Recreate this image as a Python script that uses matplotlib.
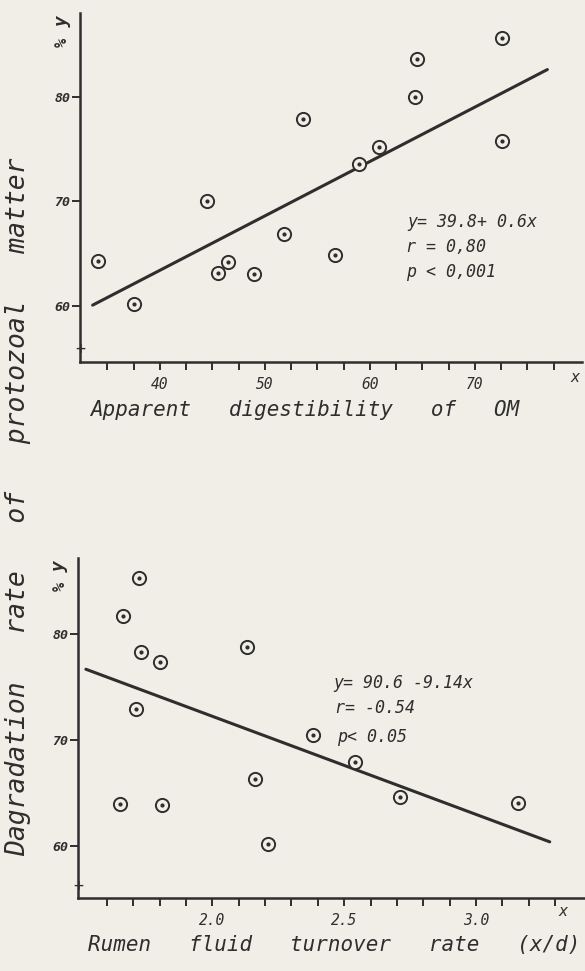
import matplotlib
matplotlib.use("Agg")
import matplotlib.pyplot as plt

# upper panel: apparent digestibility of OM vs degradation rate
om_x = [34.1, 37.5, 44.5, 45.5, 46.5, 49.0, 51.8, 53.6, 56.7, 59.0, 60.9, 64.5, 64.3, 72.6, 72.6]
om_y = [64.3, 60.2, 70.0, 63.2, 64.2, 63.1, 66.9, 77.9, 64.9, 73.6, 75.2, 83.6, 80.0, 85.6, 75.8]
om_fit_x = [33.6, 76.9]
om_fit_y = [60.1, 82.6]
om_ticks = [40, 50, 60, 70]
om_minor = [35, 37.5, 40, 42.5, 45, 47.5, 50, 52.5, 55, 57.5, 60, 62.5, 65, 67.5, 70, 72.5, 75, 77.5]

# lower panel: rumen fluid turnover rate vs degradation rate
tr_x = [1.72, 1.66, 1.73, 1.80, 1.71, 1.65, 1.81, 2.13, 2.16, 2.21, 2.38, 2.54, 2.71, 3.16]
tr_y = [85.3, 81.7, 78.3, 77.4, 72.9, 64.0, 63.9, 78.8, 66.3, 60.2, 70.5, 67.9, 64.6, 64.1]
tr_fit_x = [1.52, 3.28]
tr_fit_y = [76.7, 60.4]
tr_ticks = [2.0, 2.5, 3.0]
tr_tick_labels = ["2.0", "2.5", "3.0"]
tr_minor = [1.6, 1.7, 1.8, 1.9, 2.0, 2.1, 2.2, 2.3, 2.4, 2.5, 2.6, 2.7, 2.8, 2.9, 3.0, 3.1, 3.2, 3.3]

y_ticks = [60, 70, 80]

paper = "#f0eee6"
ink = "#2e2e2e"
hand = dict(family="DejaVu Sans Mono", style="oblique", color=ink)

fig = plt.figure(figsize=(5.85, 9.71), dpi=100, facecolor=paper)
ax1 = fig.add_axes([0.1368, 0.6275, 0.8581, 0.3591])
ax2 = fig.add_axes([0.1333, 0.0752, 0.865, 0.3501])


def style_axis(ax, xlim, ylim, major, labels, minor):
    ax.set_facecolor(paper)
    ax.set_xlim(*xlim)
    ax.set_ylim(*ylim)
    for s in ["top", "right"]:
        ax.spines[s].set_visible(False)
    for s in ["left", "bottom"]:
        ax.spines[s].set_linewidth(1.8)
        ax.spines[s].set_color(ink)
    ax.set_yticks(y_ticks)
    ax.set_yticklabels([str(v) for v in y_ticks], fontsize=9.5, weight="bold", **hand)
    ax.set_xticks(major)
    ax.set_xticklabels(labels, fontsize=10.5, **hand)
    ax.set_xticks(minor, minor=True)
    ax.tick_params(axis="y", length=6, width=1.4, color=ink, pad=1)
    ax.tick_params(axis="x", which="both", length=6, width=1.4, color=ink, pad=5)


style_axis(ax1, (32.4, 80.2), (54.7, 88.0), om_ticks, [str(v) for v in om_ticks], om_minor)
style_axis(ax2, (1.49, 3.41), (55.1, 87.2), tr_ticks, tr_tick_labels, tr_minor)

for ax, xs, ys, fx, fy in [(ax1, om_x, om_y, om_fit_x, om_fit_y),
                           (ax2, tr_x, tr_y, tr_fit_x, tr_fit_y)]:
    ax.plot(fx, fy, color=ink, linewidth=2.2, solid_capstyle="round")
    ax.plot(xs, ys, linestyle="none", marker="o", markersize=9.5,
            markerfacecolor=paper, markeredgecolor=ink, markeredgewidth=1.4)
    ax.plot(xs, ys, linestyle="none", marker="o", markersize=2.0,
            markerfacecolor=ink, markeredgecolor=ink)
    ax.text(-0.035, 0.975, "y", rotation=90, fontsize=13, weight="bold",
            ha="center", va="center", transform=ax.transAxes, **hand)
    ax.text(-0.035, 0.915, "%", rotation=90, fontsize=11, weight="bold",
            ha="center", va="center", transform=ax.transAxes, **hand)
    ax.text(0.0, 0.035, "+", fontsize=12, ha="center", va="center",
            transform=ax.transAxes, **hand)

fig.text(0.697, 0.771, "y= 39.8+ 0.6x", fontsize=12, va="center", **hand)
fig.text(0.694, 0.746, "r = 0,80", fontsize=12, va="center", **hand)
fig.text(0.694, 0.720, "p < 0,001", fontsize=12, va="center", **hand)

fig.text(0.569, 0.297, "y= 90.6 -9.14x", fontsize=12, va="center", **hand)
fig.text(0.573, 0.271, "r= -0.54", fontsize=12, va="center", **hand)
fig.text(0.576, 0.241, "p< 0.05", fontsize=12, va="center", **hand)

fig.text(0.154, 0.578, "Apparent   digestibility   of   OM", fontsize=15, va="center", **hand)
fig.text(0.150, 0.027, "Rumen   fluid   turnover   rate   (x/d)", fontsize=15, va="center", **hand)
fig.text(0.983, 0.611, "x", fontsize=11, ha="center", va="center", **hand)
fig.text(0.962, 0.061, "x", fontsize=11, ha="center", va="center", **hand)

fig.text(0.031, 0.478, "Dagradation   rate   of   protozoal   matter", rotation=90,
         fontsize=19, ha="center", va="center", **hand)

fig.savefig("out.png", dpi=100, facecolor=paper)
